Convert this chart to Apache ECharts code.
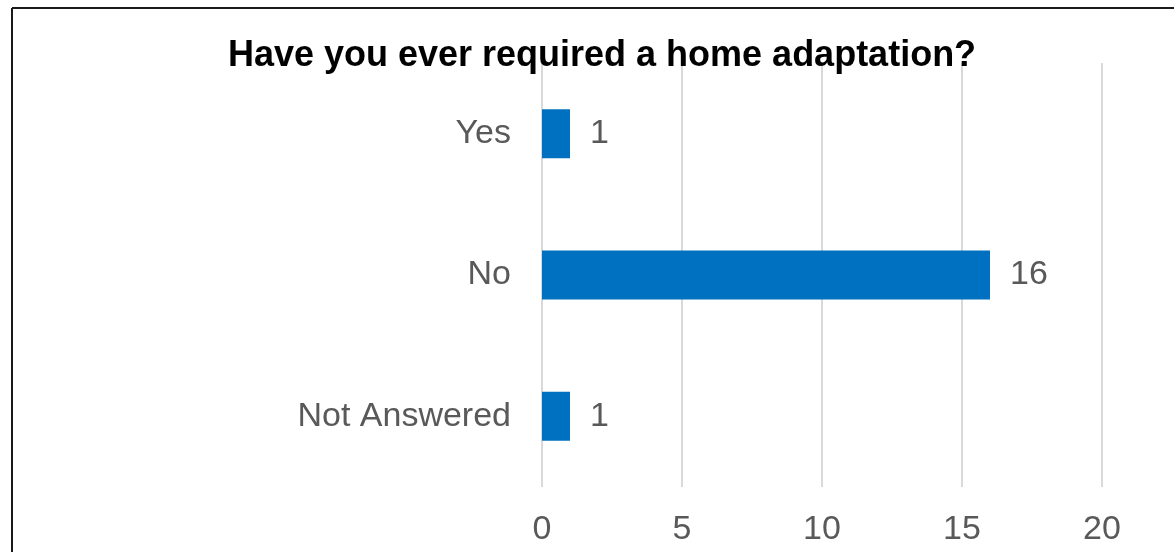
<!DOCTYPE html>
<html>
<head>
<meta charset="utf-8">
<title>Have you ever required a home adaptation?</title>
<script src="https://cdn.jsdelivr.net/npm/echarts@6/dist/echarts.min.js"></script>
<style>
  html, body { margin: 0; padding: 0; background: #ffffff; }
  #chart { width: 1174px; height: 552px; }
</style>
</head>
<body>
<div id="chart"></div>
<script>
// Survey answers and their counts
const categories = ['Yes', 'No', 'Not Answered'];
const counts = [1, 16, 1];
const axisMin = 0;
const axisMax = 20;
const axisStep = 5;

const chart = echarts.init(document.getElementById('chart'), null, { renderer: 'canvas' });

const greyText = '#595959';
const fontFamily = '"Liberation Sans", Arial, sans-serif';

chart.setOption({
  backgroundColor: '#ffffff',
  animation: false,
  title: {
    text: 'Have you ever required a home adaptation?',
    left: 597,
    top: 33,
    textAlign: 'center',
    textStyle: {
      fontFamily: fontFamily,
      fontSize: 36,
      fontWeight: 'bold',
      color: '#000000'
    }
  },
  graphic: [
    // frame lines along the top and left edges
    { type: 'line', shape: { x1: 12, y1: 8, x2: 1174, y2: 8 }, style: { stroke: '#1a1a1a', lineWidth: 2 }, silent: true },
    { type: 'line', shape: { x1: 12, y1: 8, x2: 12, y2: 552 }, style: { stroke: '#1a1a1a', lineWidth: 2 }, silent: true }
  ],
  grid: {
    left: 542,
    right: 72,
    top: 63,
    bottom: 65,
    containLabel: false
  },
  xAxis: {
    type: 'value',
    min: axisMin,
    max: axisMax,
    interval: axisStep,
    axisLine: { show: false },
    axisTick: { show: false },
    axisLabel: {
      margin: 26,
      color: greyText,
      fontFamily: fontFamily,
      fontSize: 34
    },
    splitLine: {
      show: true,
      lineStyle: { color: '#d9d9d9', width: 2 }
    }
  },
  yAxis: {
    type: 'category',
    data: categories,
    inverse: true,
    axisLine: { show: false },
    axisTick: { show: false },
    axisLabel: {
      margin: 31,
      color: greyText,
      fontFamily: fontFamily,
      fontSize: 34
    }
  },
  series: [{
    type: 'bar',
    data: counts,
    barWidth: 49,
    itemStyle: { color: '#0070c0' },
    label: {
      show: true,
      position: 'right',
      distance: 20,
      color: greyText,
      fontFamily: fontFamily,
      fontSize: 34
    }
  }]
});
</script>
</body>
</html>
